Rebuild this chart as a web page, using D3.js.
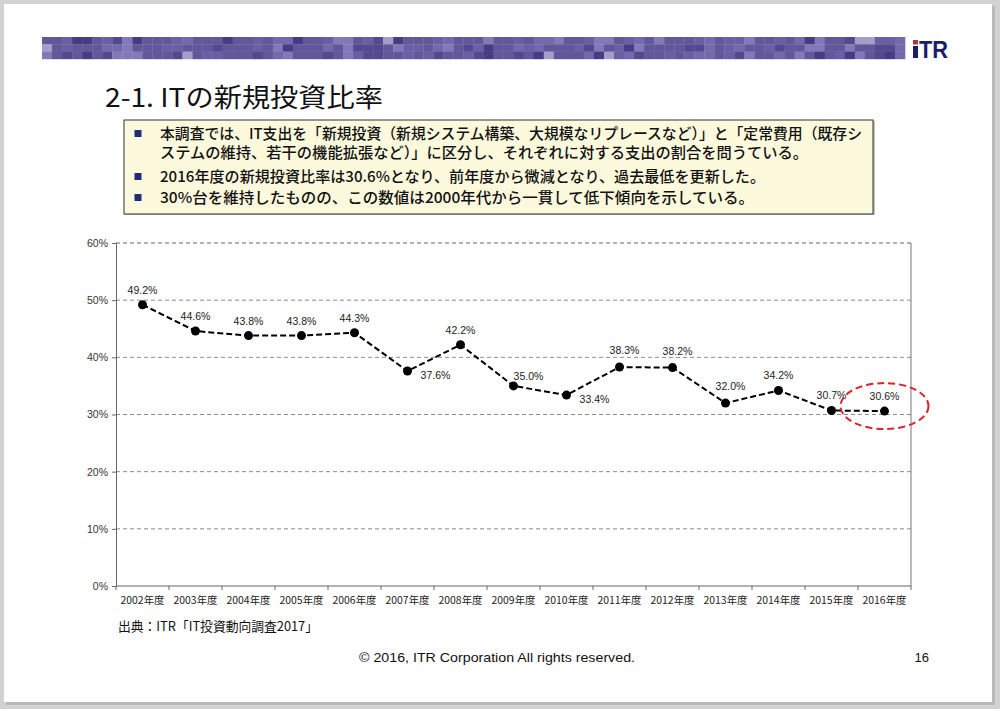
<!DOCTYPE html>
<html>
<head>
<meta charset="utf-8" />
<title>ITの新規投資比率</title>
<script src="https://d3js.org/d3.v7.min.js"></script>
<style>
  html, body { margin: 0; padding: 0; background: #d2d2d2; }
  svg { display: block; }
  .jp { font-family: "Noto Sans CJK JP", "Noto Sans", sans-serif; }
  .num { font-family: "Liberation Sans", Arial, sans-serif; }
</style>
</head>
<body>
<svg id="slide" width="1000" height="709"></svg>
<script>
// chart data
var years = ["2002年度", "2003年度", "2004年度", "2005年度", "2006年度", "2007年度", "2008年度",
  "2009年度", "2010年度", "2011年度", "2012年度", "2013年度", "2014年度", "2015年度", "2016年度"];
var rates = [49.2, 44.6, 43.8, 43.8, 44.3, 37.6, 42.2, 35.0, 33.4, 38.3, 38.2, 32.0, 34.2, 30.7, 30.6];
var yTicks = [0, 10, 20, 30, 40, 50, 60];
// where each data label sits relative to its point
var labelPlace = ["top", "top", "top", "top", "top", "right", "top",
  "topRight", "right", "topShift", "topShift", "topShift", "top", "top", "top"];

var bullets = [
  ["本調査では、IT支出を「新規投資（新規システム構築、大規模なリプレースなど）」と「定常費用（既存シ",
   "ステムの維持、若干の機能拡張など）」に区分し、それぞれに対する支出の割合を問うている。"],
  ["2016年度の新規投資比率は30.6%となり、前年度から微減となり、過去最低を更新した。"],
  ["30%台を維持したものの、この数値は2000年代から一貫して低下傾向を示している。"]
];
var titleText = "2-1. ITの新規投資比率";
var sourceText = "出典：ITR「IT投資動向調査2017」";
var footerText = "© 2016, ITR Corporation  All rights reserved.";
var pageNo = "16";

var svg = d3.select("#slide");

// slide background with a soft shadow
svg.append("rect").attr("x", 6).attr("y", 6).attr("width", 989).attr("height", 699).attr("fill", "#b9b9b9");
svg.append("rect").attr("x", 4).attr("y", 4).attr("width", 988).attr("height", 698).attr("fill", "#fff");

// header banner: purple mosaic strip
var banner = svg.append("g");
var shades = ["#625799", "#6a5fa5", "#54498f", "#7369ad", "#463c85", "#8279b8", "#a49ecb"];
var cols = 86, bx0 = 42, bw = (905 - bx0) / cols;
for (var r = 0; r < 3; r++) {
  for (var c = 0; c < cols; c++) {
    var h = (c * 37 + r * 61 + (c * c) % 13 + (c * r * 7) % 11) % 31;
    var col = h < 14 ? shades[0] : h < 19 ? shades[1] : h < 23 ? shades[2] : h < 26 ? shades[3]
      : h < 28 ? shades[4] : h < 30 ? shades[5] : shades[6];
    banner.append("rect")
      .attr("x", bx0 + c * bw).attr("y", 37 + r * 7.3)
      .attr("width", bw + 0.3).attr("height", 7.6)
      .attr("fill", col);
  }
}

// iTR logo
svg.append("rect").attr("x", 913).attr("y", 46).attr("width", 5).attr("height", 12).attr("fill", "#1d1b6b");
svg.append("rect").attr("x", 913).attr("y", 40).attr("width", 5).attr("height", 4.5).attr("fill", "#a8393a");
svg.append("text").attr("class", "num")
  .attr("x", 919).attr("y", 58)
  .attr("font-size", 24).attr("font-weight", "bold").attr("fill", "#1d1b6b")
  .attr("textLength", 29).attr("lengthAdjust", "spacingAndGlyphs")
  .text("TR");

// title
svg.append("text").attr("class", "jp")
  .attr("x", 105).attr("y", 107)
  .attr("font-size", 26).attr("fill", "#111")
  .attr("textLength", 278).attr("lengthAdjust", "spacingAndGlyphs")
  .text(titleText);

// summary box
svg.append("rect").attr("x", 125).attr("y", 121).attr("width", 750).attr("height", 94).attr("fill", "#c4c4b8");
svg.append("rect").attr("x", 124).attr("y", 120).attr("width", 749).attr("height", 94)
  .attr("fill", "#fcf9dc").attr("stroke", "#333").attr("stroke-width", 1);

var lineY = [139, 158, 182, 203];
var lineLen = [702, 648, 605, 594];
var li = 0;
bullets.forEach(function (b) {
  svg.append("rect")
    .attr("x", 134.5).attr("y", lineY[li] - 9).attr("width", 7).attr("height", 7)
    .attr("fill", "#1f2a7c");
  b.forEach(function (t) {
    svg.append("text").attr("class", "jp")
      .attr("x", 160).attr("y", lineY[li])
      .attr("font-size", 15).attr("font-weight", 500).attr("fill", "#111")
      .attr("textLength", lineLen[li]).attr("lengthAdjust", "spacingAndGlyphs")
      .text(t);
    li++;
  });
});

// line chart
var pL = 116, pR = 911, pT = 243, pB = 586;
var x = d3.scaleBand().domain(years).range([pL, pR]).padding(0);
var y = d3.scaleLinear().domain([0, 60]).range([pB, pT]);
var cx = function (d, i) { return x(years[i]) + x.bandwidth() / 2; };

var chart = svg.append("g");

// dashed gridlines
chart.selectAll("line.grid")
  .data(yTicks.filter(function (t) { return t > 0; }))
  .enter().append("line")
  .attr("class", "grid")
  .attr("x1", pL).attr("x2", pR)
  .attr("y1", function (d) { return y(d); }).attr("y2", function (d) { return y(d); })
  .attr("stroke", function (d) { return d === 60 ? "#666" : "#8c8c8c"; })
  .attr("stroke-width", 1)
  .attr("stroke-dasharray", "4,3");

// right frame line
chart.append("line")
  .attr("x1", pR).attr("x2", pR).attr("y1", pT).attr("y2", pB)
  .attr("stroke", "#777").attr("stroke-width", 1);

// y axis
var yAxis = d3.axisLeft(y).tickValues(yTicks).tickSize(4).tickPadding(4)
  .tickFormat(function (d) { return d + "%"; });
var gy = chart.append("g").attr("transform", "translate(" + pL + ",0)").call(yAxis);
gy.attr("font-family", null).attr("font-size", null);
gy.select(".domain").attr("stroke", "#666");
gy.selectAll(".tick line").attr("stroke", "#666");
gy.selectAll(".tick text").attr("class", "num").attr("font-size", 10.5).attr("fill", "#333");

// x axis, ticks between categories
var gx = chart.append("g").attr("transform", "translate(0," + pB + ")");
gx.append("line").attr("x1", pL).attr("x2", pR).attr("stroke", "#666");
gx.selectAll("line.tk")
  .data(years.concat(["end"]))
  .enter().append("line")
  .attr("class", "tk")
  .attr("x1", function (d, i) { return pL + i * x.bandwidth(); })
  .attr("x2", function (d, i) { return pL + i * x.bandwidth(); })
  .attr("y1", 0).attr("y2", 4)
  .attr("stroke", "#666");
gx.selectAll("text")
  .data(years)
  .enter().append("text")
  .attr("class", "jp")
  .attr("x", cx).attr("y", 18)
  .attr("text-anchor", "middle")
  .attr("font-size", 10).attr("fill", "#222")
  .attr("textLength", 44).attr("lengthAdjust", "spacingAndGlyphs")
  .text(function (d) { return d; });

// dashed series line
var line = d3.line()
  .x(function (d, i) { return cx(d, i); })
  .y(function (d) { return y(d); });
chart.append("path")
  .datum(rates)
  .attr("d", line)
  .attr("fill", "none")
  .attr("stroke", "#000")
  .attr("stroke-width", 2)
  .attr("stroke-dasharray", "6,3");

chart.selectAll("circle.pt")
  .data(rates)
  .enter().append("circle")
  .attr("class", "pt")
  .attr("cx", cx).attr("cy", function (d) { return y(d); })
  .attr("r", 4.5)
  .attr("fill", "#000");

// data labels
var offs = {
  top: [0, -11],
  topShift: [5, -13],
  topRight: [15, -6],
  right: [28, 8]
};
chart.selectAll("text.lbl")
  .data(rates)
  .enter().append("text")
  .attr("class", "lbl num")
  .attr("x", function (d, i) { return cx(d, i) + offs[labelPlace[i]][0]; })
  .attr("y", function (d, i) { return y(d) + offs[labelPlace[i]][1]; })
  .attr("text-anchor", "middle")
  .attr("font-size", 10.5).attr("fill", "#222")
  .text(function (d) { return d.toFixed(1) + "%"; });

// red highlight around the latest value
var last = rates.length - 1;
chart.append("ellipse")
  .attr("cx", cx(rates[last], last)).attr("cy", y(rates[last]) - 5)
  .attr("rx", 44).attr("ry", 23)
  .attr("fill", "none")
  .attr("stroke", "#e0202a")
  .attr("stroke-width", 2)
  .attr("stroke-dasharray", "7,4");

// source and footer
svg.append("text").attr("class", "jp")
  .attr("x", 118).attr("y", 631)
  .attr("font-size", 13).attr("fill", "#111")
  .attr("textLength", 200).attr("lengthAdjust", "spacingAndGlyphs")
  .text(sourceText);

svg.append("text").attr("class", "num")
  .attr("x", 497).attr("y", 662)
  .attr("text-anchor", "middle")
  .attr("font-size", 13).attr("fill", "#111")
  .attr("textLength", 276).attr("lengthAdjust", "spacingAndGlyphs")
  .text(footerText);

svg.append("text").attr("class", "num")
  .attr("x", 929).attr("y", 662)
  .attr("text-anchor", "end")
  .attr("font-size", 13).attr("fill", "#111")
  .text(pageNo);
</script>
</body>
</html>
